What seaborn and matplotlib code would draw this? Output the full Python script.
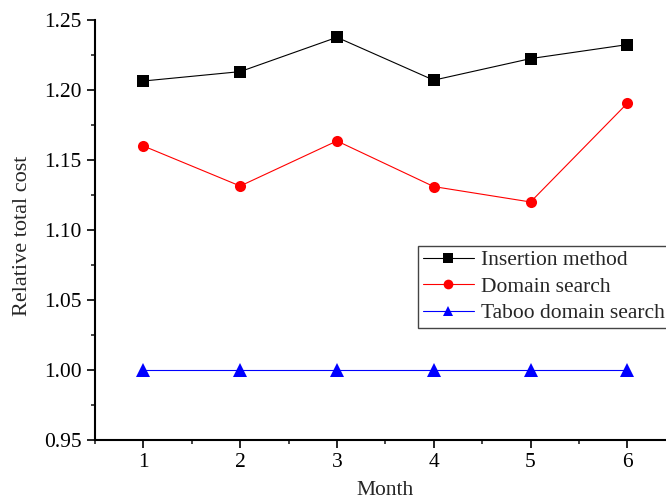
import matplotlib
matplotlib.use("Agg")
import matplotlib.pyplot as plt
import seaborn as sns
import pandas as pd
from matplotlib.ticker import MultipleLocator

# data
months = [1, 2, 3, 4, 5, 6]
insertion = [1.2064, 1.2131, 1.2376, 1.2070, 1.2224, 1.2324]
domain = [1.1600, 1.1314, 1.1636, 1.1310, 1.1200, 1.1905]
taboo = [1.0, 1.0, 1.0, 1.0, 1.0, 1.0]
series_names = ["Insertion method", "Domain search", "Taboo domain search"]

df = pd.DataFrame({
    "Month": months * 3,
    "cost": insertion + domain + taboo,
    "method": [series_names[0]] * 6 + [series_names[1]] * 6 + [series_names[2]] * 6,
})

sns.set_style("ticks")
plt.rcParams["font.family"] = ["Liberation Serif", "DejaVu Serif"]

fs = 15.5
fig = plt.figure(figsize=(6.66, 4.99), dpi=100)
ax = fig.add_axes([0.1426, 0.1182, 0.872, 0.8418])

palette = {series_names[0]: "black", series_names[1]: "red", series_names[2]: "blue"}
markers = {series_names[0]: "s", series_names[1]: "o", series_names[2]: "^"}
sns.lineplot(data=df, x="Month", y="cost", hue="method", style="method",
             palette=palette, markers=markers, dashes=False, ax=ax,
             linewidth=0.8, markersize=8, markeredgewidth=0)
# triangles look a bit bigger in the original
ax.lines[2].set_markersize(9.5)

ax.set_xlim(0.5, 6.5)
ax.set_ylim(0.95, 1.25)
ax.xaxis.set_major_locator(MultipleLocator(1))
ax.xaxis.set_minor_locator(MultipleLocator(0.5))
ax.yaxis.set_major_locator(MultipleLocator(0.05))
ax.yaxis.set_minor_locator(MultipleLocator(0.025))
ax.yaxis.set_major_formatter(matplotlib.ticker.FormatStrFormatter("%.2f"))

sns.despine(ax=ax)
for s in ["left", "bottom"]:
    ax.spines[s].set_linewidth(1.5)
    ax.spines[s].set_color("black")
ax.tick_params(which="major", direction="out", length=6, width=1.2, labelsize=fs, colors="black")
ax.tick_params(which="minor", direction="out", length=3, width=1.2)

ax.set_xlabel("Month", fontsize=fs, labelpad=6)
ax.set_ylabel("Relative total cost", fontsize=16)
ax.yaxis.set_label_coords(-0.108, 0.486)

leg = ax.legend(title=None, loc="upper left", bbox_to_anchor=(0.628, 0.507),
                bbox_transform=fig.transFigure, borderaxespad=0, fontsize=fs,
                fancybox=False, framealpha=1, edgecolor="#444444", handlelength=2.4,
                labelspacing=0.3, borderpad=0.2, handletextpad=0.3)
for h in leg.legend_handles:
    h.set_markersize(7)

fig.savefig("out.png", dpi=100)
